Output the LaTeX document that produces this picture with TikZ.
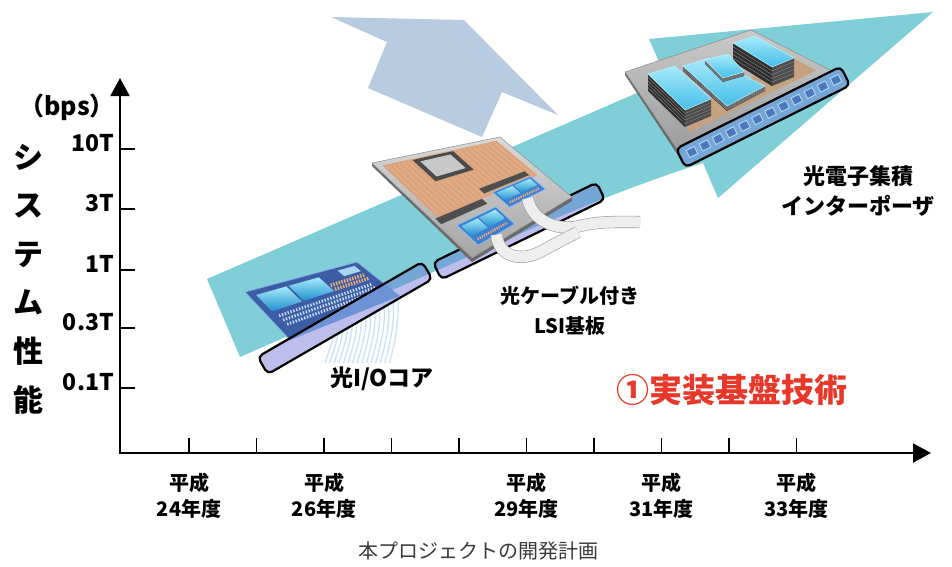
\documentclass[tikz,border=0pt]{standalone}
\usepackage{fontspec}
\setmainfont{Noto Sans CJK JP}
\usetikzlibrary{arrows.meta,calc}

\definecolor{bandteal}{HTML}{80CFD8}
\definecolor{arrowblue}{HTML}{B7CBE1}
\definecolor{lavfill}{RGB}{190,190,236}
\definecolor{blueover}{RGB}{118,166,214}
\definecolor{chipover}{RGB}{110,146,214}
\definecolor{redtext}{HTML}{E8382A}
\definecolor{capgray}{HTML}{3A3A3A}
\definecolor{navy}{HTML}{3C5DA6}
\definecolor{navyedge}{HTML}{86AEE6}
\definecolor{cyanhi}{HTML}{A6EBFA}
\definecolor{cyanmid}{HTML}{45BDE8}
\definecolor{cyanlo}{HTML}{1F8FD0}
\definecolor{labelblue}{HTML}{A8D8F0}
\definecolor{padorange}{HTML}{F0B070}
\definecolor{padlight}{HTML}{C9DDF3}
\definecolor{fibercol}{HTML}{C4DDF0}
\definecolor{boardhi}{HTML}{DADADA}
\definecolor{boardlo}{HTML}{A4A4A4}
\definecolor{boardedge}{HTML}{8C8C8C}
\definecolor{rimcol}{HTML}{6A6A6A}
\definecolor{copper}{HTML}{DCA47C}
\definecolor{copperline}{HTML}{EBC3A2}
\definecolor{framedark}{HTML}{4A4A4A}
\definecolor{framelight}{HTML}{C8C8C8}
\definecolor{bardark}{HTML}{4E4E4E}
\definecolor{modblue}{HTML}{3F7FD2}
\definecolor{modedge}{HTML}{8DBDF0}
\definecolor{ribbon}{HTML}{EEEEEE}
\definecolor{ribbonedge}{HTML}{9A9A9A}
\definecolor{stackside}{HTML}{2E2E2E}
\definecolor{stackline}{HTML}{8A8A8A}
\definecolor{stackrim}{HTML}{B8F0FF}
\definecolor{woodcol}{HTML}{C6A27E}
\definecolor{pboardhi}{HTML}{CACACA}
\definecolor{pboardlo}{HTML}{9A9A9A}
\definecolor{optchip}{HTML}{4A78BD}
\definecolor{optedge}{HTML}{B4D6F4}

% point (u,v) of the quadrilateral with corners #2a (top-left), #2b, #2c, #2d
\newcommand\bil[4]{\coordinate (#1) at ($($(#2a)!#3!(#2b)$)!#4!($(#2d)!#3!(#2c)$)$);}
% sub-quadrilateral u in [#3,#4], v in [#5,#6]
\newcommand\quadpatch[6]{\bil{qp1}{#2}{#3}{#5}\bil{qp2}{#2}{#4}{#5}\bil{qp3}{#2}{#4}{#6}\bil{qp4}{#2}{#3}{#6}%
  \path[#1] (qp1) -- (qp2) -- (qp3) -- (qp4) -- cycle;}
% segment from (u1,v1) to (u2,v2) of a quadrilateral
\newcommand\quadline[6]{\bil{ql1}{#2}{#3}{#4}\bil{ql2}{#2}{#5}{#6}\draw[#1] (ql1) -- (ql2);}
% memory stack: top face corners 1..4, height #9
\newcommand\hbmstack[9]{%
  \fill[stackside] (#1,#2) -- (#7,#8) -- (#7,#8+#9) -- (#1,#2+#9) -- cycle;
  \fill[stackside!85!white] (#7,#8) -- (#5,#6) -- (#5,#6+#9) -- (#7,#8+#9) -- cycle;
  \foreach \k in {0.2,0.4,0.6,0.8}{\draw[stackline,line width=0.4pt] (#1,#2+\k*#9) -- (#7,#8+\k*#9) -- (#5,#6+\k*#9);}
  \path[top color=cyanhi,bottom color=cyanmid,draw=stackrim,line width=0.5pt] (#1,#2) -- (#3,#4) -- (#5,#6) -- (#7,#8) -- cycle;}
% clip to the teal arrow
\newcommand\bandclip{\clip (b1) -- (b2) -- (b3) -- (b4) -- (b5) -- (b6) .. controls (bc1) and (bc2) .. (b7) -- (b8) -- cycle;}
% two-tone fill of a rounded tag: lavender outside the teal arrow, blue inside it
\newcommand\tagfill[4]{% centre, length, height, angle
  \node[tagshape,fill=lavfill,minimum width=#2,minimum height=#3,rotate=#4] at (#1) {};
  \begin{scope}\bandclip
    \node[tagshape,fill=blueover,minimum width=#2,minimum height=#3,rotate=#4] at (#1) {};
  \end{scope}}

\begin{document}
\begin{tikzpicture}[x=1pt,y=-1pt,
  axisline/.style={line width=2pt,{Triangle[length=18pt,width=19pt]}-{Triangle[length=18pt,width=19pt]}},
  tickline/.style={line width=1.4pt},
  ylab/.style={anchor=east,inner sep=0pt,font=\bfseries\fontsize{23}{23}\selectfont},
  xlab/.style={align=center,inner sep=0pt,font=\bfseries\fontsize{20}{26}\selectfont},
  vlab/.style={align=center,inner sep=0pt,font=\bfseries\fontsize{30}{48.6}\selectfont},
  partlab/.style={align=center,inner sep=0pt,font=\bfseries\fontsize{20}{30}\selectfont},
  tagshape/.style={rounded corners=5pt,inner sep=0pt},
  tagbox/.style={tagshape,draw=black,line width=2.2pt},
  fiber/.style={draw=fibercol,line width=1.3pt,opacity=0.85},
  ribbonline/.style={draw=ribbonedge,line width=0.6pt,double=ribbon,double distance=11pt},
  optbox/.style={draw=optedge,fill=optchip,line width=0.9pt,minimum width=9pt,minimum height=8pt,inner sep=0pt}]

\useasboundingbox (0,0) rectangle (952,566);
\fill[white] (0,0) rectangle (952,566);

% light blue perspective arrow
\fill[arrowblue] (331,17) -- (464,20) -- (558,115) -- (502,92) -- (482,137) -- (368,88) -- (387,42) -- cycle;

% teal growth arrow
\coordinate (b1) at (207,279);
\coordinate (b2) at (667,80);
\coordinate (b3) at (649,39);
\coordinate (b4) at (933,12);
\coordinate (b5) at (718,198);
\coordinate (b6) at (703,163);
\coordinate (bc1) at (650,180);
\coordinate (bc2) at (600,199);
\coordinate (b7) at (540,225);
\coordinate (b8) at (240,357);
\fill[bandteal] (b1) -- (b2) -- (b3) -- (b4) -- (b5) -- (b6) .. controls (bc1) and (bc2) .. (b7) -- (b8) -- cycle;

% axes
\coordinate (ytip) at (120,78);
\coordinate (orig) at (120,453);
\coordinate (xtip) at (931,453);
\draw[axisline] (ytip) -- (orig) -- (xtip);
\foreach \y/\t [count=\k] in {149/10T,209/3T,270/1T,328/0.3T,388/0.1T}{
  \draw[tickline] (120,\y) -- (135,\y);
  \node[ylab] (yt\k) at (114,\y-6) {\t};
}
\foreach \i in {0,...,9}{\draw[tickline] ({189+67.5*\i},453) -- ({189+67.5*\i},438);}
\foreach \i/\yr in {0/24,2/26,5/29,7/31,9/33}{
  \node[xlab] (xl\yr) at ({189+67.5*\i},496) {平成\\\yr{}年度};}

\node[vlab] (ytitle) at (28,279) {シ\\ス\\テ\\ム\\性\\能};
\node[inner sep=0pt,font=\bfseries\fontsize{25}{25}\selectfont] (bps) at (67,107) {（bps）};

% ---- optical I/O core ----
\foreach \i in {0,...,14}{
  \draw[fiber] ({333+4.6*\i},{320-1.4*\i}) .. controls +(3,18) and +(4,-14) .. ({325+4.6*\i},363);}
\coordinate (Aa) at (245,292);
\coordinate (Ab) at (357,262);
\coordinate (Ac) at (400,296);
\coordinate (Ad) at (290,340);
\fill[navy] (Aa) -- (Ab) -- (Ac) -- (Ad) -- cycle;
\draw[navyedge,line width=0.8pt] (Ad) -- (Aa) -- (Ab) -- (Ac);
\quadpatch{top color=cyanhi,bottom color=cyanlo}{A}{0.06}{0.33}{0.1}{0.45}
\quadpatch{top color=cyanhi,bottom color=cyanlo}{A}{0.35}{0.62}{0.1}{0.45}
\quadpatch{fill=labelblue}{A}{0.80}{0.95}{0.07}{0.22}
\quadline{draw=padorange,line width=3.5pt,dash pattern=on 1.4pt off 1.4pt}{A}{0.64}{0.32}{0.95}{0.32}
\quadline{draw=padorange,line width=3.5pt,dash pattern=on 1.4pt off 1.4pt}{A}{0.64}{0.42}{0.95}{0.42}
\foreach \v in {0.56,0.65,0.74}{
  \quadline{draw=padlight,line width=3pt,dash pattern=on 1.4pt off 1.6pt}{A}{0.08}{\v}{0.92}{\v}}
\tagfill{345,318}{190pt}{20pt}{30}
\begin{scope}
  \clip (Aa) -- (Ab) -- (Ac) -- (Ad) -- cycle;
  \node[tagshape,fill=chipover,minimum width=190pt,minimum height=20pt,rotate=30] at (345,318) {};
\end{scope}
\node[tagbox,minimum width=190pt,minimum height=20pt,rotate=30] (io) at (345,318) {};

% ---- LSI board with optical cables ----
\tagfill{519,231}{182pt}{19pt}{26}
\node[tagbox,minimum width=182pt,minimum height=19pt,rotate=26] (lsi) at (519,231) {};
\coordinate (La) at (372,163);
\coordinate (Lb) at (500,137);
\coordinate (Lc) at (572,197);
\coordinate (Ld) at (472,258);
\fill[rimcol] (La) -- (Ld) -- (Lc) -- ($(Lc)+(0,4)$) -- ($(Ld)+(0,4)$) -- ($(La)+(0,3)$) -- cycle;
\path[top color=boardhi,bottom color=boardlo,draw=boardedge,line width=0.5pt] (La) -- (Lb) -- (Lc) -- (Ld) -- cycle;
\quadpatch{fill=copper}{L}{0.05}{0.95}{0.04}{0.6}
\foreach \u in {0.08,0.12,...,0.92}{
  \quadline{draw=copperline,line width=0.3pt}{L}{\u}{0.06}{\u}{0.58}}
\quadpatch{fill=framedark}{L}{0.28}{0.6}{0.05}{0.3}
\quadpatch{fill=framelight}{L}{0.32}{0.56}{0.08}{0.26}
\quadpatch{fill=bardark}{L}{0.03}{0.45}{0.6}{0.66}
\quadpatch{fill=bardark}{L}{0.5}{0.9}{0.5}{0.56}
% module on the left
\bil{Ma}{L}{0.12}{0.72}\bil{Mb}{L}{0.48}{0.72}\bil{Mc}{L}{0.48}{0.94}\bil{Md}{L}{0.12}{0.94}
\path[fill=modblue,draw=modedge,line width=0.8pt] (Ma) -- (Mb) -- (Mc) -- (Md) -- cycle;
\quadpatch{top color=cyanhi,bottom color=cyanlo}{M}{0.06}{0.48}{0.1}{0.6}
\quadpatch{top color=cyanhi,bottom color=cyanlo}{M}{0.52}{0.94}{0.1}{0.6}
\quadline{draw=padorange,line width=2.5pt,dash pattern=on 1.2pt off 1.2pt}{M}{0.1}{0.8}{0.9}{0.8}
% module on the right
\bil{Na}{L}{0.56}{0.58}\bil{Nb}{L}{0.9}{0.58}\bil{Nc}{L}{0.9}{0.78}\bil{Nd}{L}{0.56}{0.78}
\path[fill=modblue,draw=modedge,line width=0.8pt] (Na) -- (Nb) -- (Nc) -- (Nd) -- cycle;
\quadpatch{top color=cyanhi,bottom color=cyanlo}{N}{0.06}{0.48}{0.1}{0.6}
\quadpatch{top color=cyanhi,bottom color=cyanlo}{N}{0.52}{0.94}{0.1}{0.6}
\quadline{draw=padorange,line width=2.5pt,dash pattern=on 1.2pt off 1.2pt}{N}{0.1}{0.8}{0.9}{0.8}
% flexible optical cables
\bil{rn}{N}{0.5}{1}
\bil{rm}{M}{0.5}{1}
\coordinate (ca) at (580,226);
\coordinate (cb) at (640,222);
\coordinate (cc) at (540,252);
\coordinate (cd) at (578,232);
\draw[ribbonline] (rn) .. controls +(5,25) and +(-20,5) .. (ca) .. controls +(20,-5) and +(-20,0) .. (cb);
\draw[ribbonline] (rm) .. controls +(2,22) and +(-20,10) .. (cc) .. controls +(15,-8) and +(-10,5) .. (cd);

% ---- opto-electronic interposer ----
\coordinate (Pa) at (625,72);
\coordinate (Pb) at (751,30);
\coordinate (Pc) at (842,76);
\coordinate (Pd) at (683,158);
\fill[rimcol] (Pa) -- (Pd) -- (Pc) -- ($(Pc)+(0,4)$) -- ($(Pd)+(0,5)$) -- ($(Pa)+(0,3)$) -- cycle;
\path[top color=pboardhi,bottom color=pboardlo,draw=boardedge,line width=0.5pt] (Pa) -- (Pb) -- (Pc) -- (Pd) -- cycle;
\quadpatch{fill=woodcol}{P}{0.12}{0.95}{0.55}{0.8}
\hbmstack{733}{43}{755}{36}{794}{58}{772}{67}{19}
\hbmstack{683}{66}{709}{58}{765}{86}{727}{106}{5}
\hbmstack{705}{60}{728}{54}{744}{72}{723}{78}{4}
\hbmstack{648}{74}{675}{66}{711}{99}{685}{110}{17}
\tagfill{763,117}{184pt}{21pt}{26.5}
\coordinate (oc0) at (692,152);
\coordinate (oc1) at (836,80);
\foreach \i in {0,...,11}{
  \node[optbox,rotate=26.5] (oc-\i) at ($(oc0)!\i/11!(oc1)$) {};}
\node[tagbox,minimum width=184pt,minimum height=21pt,rotate=26.5] (ipz) at (763,117) {};

% ---- labels ----
\node[partlab,font=\bfseries\fontsize{23}{30}\selectfont] (lab-io) at (382,379) {光I/Oコア};
\node[partlab] (lab-lsi) at (570,311) {光ケーブル付き\\LSI基板};
\node[partlab,font=\bfseries\fontsize{22}{30}\selectfont] (lab-ipz) at (858,191) {光電子集積\\インターポーザ};
\node[inner sep=0pt,text=redtext,font=\bfseries\fontsize{33}{33}\selectfont] (theme) at (732,390) {①実装基盤技術};
\node[inner sep=0pt,text=capgray,font=\fontsize{20}{20}\selectfont] (caption) at (478,551) {本プロジェクトの開発計画};
\end{tikzpicture}
\end{document}
